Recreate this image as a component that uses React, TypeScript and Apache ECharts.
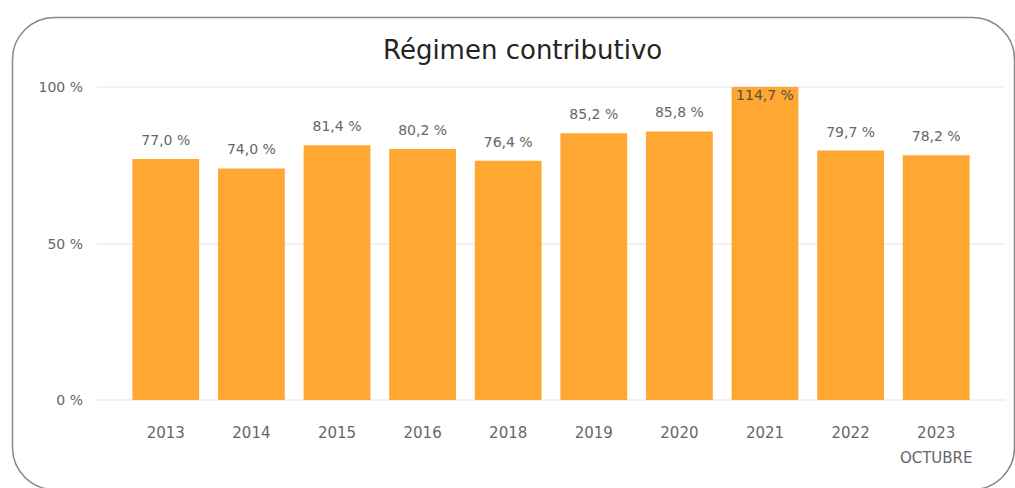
import React, { useEffect, useRef } from "react";
import * as echarts from "echarts";

const years: string[] = ["2013", "2014", "2015", "2016", "2018", "2019", "2020", "2021", "2022", "2023\nOCTUBRE"];
const ratios: number[] = [77.0, 74.0, 81.4, 80.2, 76.4, 85.2, 85.8, 114.7, 79.7, 78.2];
const axisMax = 100;
const axisStep = 50;

const BAR = "#FFA733";
const TEXT = "#66666A";
const FONT = "'DejaVu Sans', sans-serif";

const fmt = (v: number) => v.toFixed(1).replace(".", ",") + " %";

export default function App() {
  const ref = useRef<HTMLDivElement>(null);

  useEffect(() => {
    if (!ref.current) return;
    const chart = echarts.init(ref.current, undefined, { renderer: "svg" });
    chart.setOption({
      animation: false,
      backgroundColor: "#ffffff",
      title: {
        text: "Régimen contributivo",
        left: 378,
        top: 32,
        textStyle: { fontFamily: FONT, fontSize: 26, fontWeight: "normal", color: "#252423" },
      },
      graphic: [
        {
          type: "rect",
          left: 10,
          top: 15,
          shape: { width: 1002, height: 472, r: 42 },
          style: { fill: "none", stroke: "#8A8886", lineWidth: 1.5 },
          silent: true,
          z: -1,
        },
      ],
      grid: [
        { left: 123, right: 36, top: 87, bottom: 88 },
        { left: 97, right: 10, top: 87, bottom: 88 },
      ],
      xAxis: [
        {
          type: "category",
          gridIndex: 0,
          data: years,
          axisLine: { show: false },
          axisTick: { show: false },
          axisLabel: { interval: 0, color: TEXT, fontFamily: FONT, fontSize: 15, margin: 20, lineHeight: 25 },
        },
        { type: "value", gridIndex: 1, min: 0, max: 1, show: false },
      ],
      yAxis: [
        { type: "value", gridIndex: 0, min: 0, max: axisMax, interval: axisStep, show: false },
        {
          type: "value",
          gridIndex: 1,
          min: 0,
          max: axisMax,
          interval: axisStep,
          axisLine: { show: false },
          axisTick: { show: false },
          axisLabel: { color: TEXT, fontFamily: FONT, fontSize: 14, margin: 14, formatter: "{value} %" },
          splitLine: { lineStyle: { color: "#EDEDED", width: 1.5 } },
        },
      ],
      series: [
        {
          type: "bar",
          xAxisIndex: 0,
          yAxisIndex: 0,
          barCategoryGap: "22%",
          itemStyle: { color: BAR },
          clip: true,
          data: ratios.map((v) =>
            v > axisMax
              ? { value: v, label: { position: "insideTop", distance: 1, color: "#5A5040" } }
              : { value: v }
          ),
          label: {
            show: true,
            position: "top",
            distance: 12,
            color: TEXT,
            fontFamily: FONT,
            fontSize: 14,
            formatter: (p: any) => fmt(p.value),
          },
        },
      ],
    });
    return () => chart.dispose();
  }, []);

  return <div ref={ref} style={{ position: "absolute", left: 0, top: 0, width: 1015, height: 488 }} />;
}
